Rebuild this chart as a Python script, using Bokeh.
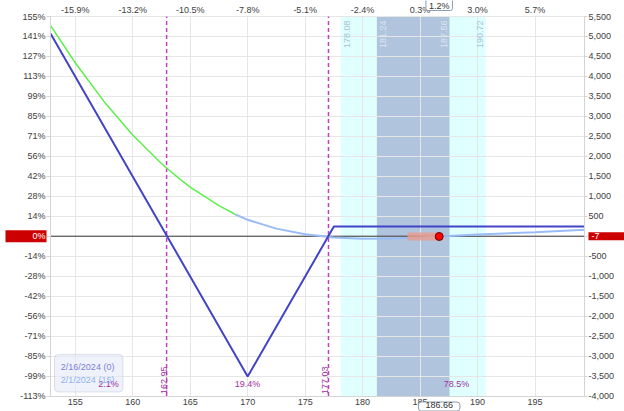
import math
from bokeh.plotting import figure
from bokeh.models import (Range1d, LinearAxis, FixedTicker, BoxAnnotation,
                          Label, NumeralTickFormatter)
from bokeh.core.properties import value
from bokeh.embed import file_html
from bokeh.resources import INLINE

FONT = "Liberation Sans"
W, H = 624, 411

# underlying price window and current quote
price_start, price_end = 152.85, 199.3
pnl_start, pnl_end = -4000, 5500
spot_price = 186.66
spot_move_label = "1.2%"
spot_pnl = -7

price_ticks = [155, 160, 165, 170, 175, 180, 185, 190, 195]
price_move_labels = ["-15.9%", "-13.2%", "-10.5%", "-7.8%", "-5.1%",
                     "-2.4%", "0.3%", "3.0%", "5.7%"]

pnl_ticks = [5500, 5000, 4500, 4000, 3500, 3000, 2500, 2000, 1500, 1000, 500, 0,
             -500, -1000, -1500, -2000, -2500, -3000, -3500, -4000]
pnl_pct_labels = ["155%", "141%", "127%", "113%", "99%", "85%", "71%", "56%", "42%",
                  "28%", "14%", "0%", "-14%", "-28%", "-42%", "-56%", "-71%", "-85%",
                  "-99%", "-113%"]

# P&L at expiration (2/16/2024)
expiry_price = [152.85, 170.0, 177.5, 199.3]
expiry_pnl = [5075, -3510, 240, 240]

# P&L today (2/1/2024, 15 days left)
today_price = [152.85, 155.0, 157.5, 160.0, 162.5, 163.0, 164.16, 165.0, 167.5, 168.95,
               170.0, 172.5, 175.0, 177.5, 180.0, 182.5, 185.0, 186.66, 190.0, 195.0, 199.3]
today_pnl = [5276, 4343, 3375, 2535, 1821, 1694, 1416, 1227, 765, 543,
             411, 190, 50, -30, -65, -55, -30, -7, 40, 100, 160]
green_until = 9  # curve is drawn green up to this point

breakevens = [162.95, 177.03]
zone_probs = ["2.1%", "19.4%", "78.5%"]

sd1 = [181.24, 187.56]
sd2 = [178.08, 190.72]

move_range = [183.9, 186.66]

legend_items = ["2/16/2024 (0)", "2/1/2024 (15)"]
legend_colors = ["#7f7fd8", "#8fb4ee"]

# the frame fills the canvas; the chart window sits inside it with room for the axes
pad_left, pad_right, pad_top, pad_bottom = 50, 40, 16, 15.5
x_per_px = (price_end - price_start) / (W - pad_left - pad_right)
y_per_px = (pnl_end - pnl_start) / (H - pad_top - pad_bottom)
x_range = Range1d(price_start - pad_left * x_per_px, price_end + pad_right * x_per_px)
y_range = Range1d(pnl_start - pad_bottom * y_per_px, pnl_end + pad_top * y_per_px)

p = figure(width=W, height=H, output_backend="svg", toolbar_location=None,
           x_range=x_range, y_range=y_range, min_border=0,
           background_fill_color="white", border_fill_color="white",
           outline_line_color=None)


def style_axis(ax):
    ax.major_label_text_font = FONT
    ax.major_label_text_font_size = "9px"
    ax.major_label_text_color = "#404040"
    ax.minor_tick_line_color = None
    ax.axis_line_color = "#d4d4d4"
    ax.major_tick_line_color = "#d4d4d4"


# bottom: price
xa = p.xaxis[0]
xa.ticker = FixedTicker(ticks=price_ticks)
xa.fixed_location = pnl_start
xa.bounds = (price_start, price_end)
style_axis(xa)
xa.major_tick_out = 0
xa.major_tick_in = 0
xa.major_label_standoff = 3

# top: % move from price
top = LinearAxis(ticker=FixedTicker(ticks=price_ticks), fixed_location=pnl_end,
                 bounds=(price_start, price_end),
                 major_label_overrides={t: s for t, s in zip(price_ticks, price_move_labels)})
style_axis(top)
top.axis_line_color = None
top.major_tick_out = 0
top.major_tick_in = 0
top.major_label_standoff = 2
p.add_layout(top, "above")

# left: % return
ya = p.yaxis[0]
ya.ticker = FixedTicker(ticks=pnl_ticks)
ya.fixed_location = price_start
ya.bounds = (pnl_start, pnl_end)
ya.major_label_overrides = {t: s for t, s in zip(pnl_ticks, pnl_pct_labels)}
style_axis(ya)
ya.major_tick_out = 4
ya.major_tick_in = 0
ya.major_label_standoff = 1

# right: P&L in dollars
right = LinearAxis(ticker=FixedTicker(ticks=pnl_ticks), fixed_location=price_end,
                   bounds=(pnl_start, pnl_end),
                   formatter=NumeralTickFormatter(format="0,0"))
style_axis(right)
right.major_tick_out = 3
right.major_tick_in = 0
right.major_label_standoff = 1
p.add_layout(right, "right")

p.xgrid.ticker = FixedTicker(ticks=price_ticks)
p.ygrid.ticker = FixedTicker(ticks=pnl_ticks)
p.xgrid.cross_bounds = (pnl_start, pnl_end)
p.ygrid.cross_bounds = (price_start, price_end)
p.grid.grid_line_color = "#e6e6e6"
p.grid.grid_line_width = 1

# standard deviation bands
p.add_layout(BoxAnnotation(left=sd2[0], right=sd2[1], top=pnl_end, bottom=pnl_start,
                           fill_color="#e0ffff", fill_alpha=1, line_color=None,
                           level="image"))
p.add_layout(BoxAnnotation(left=sd1[0], right=sd1[1], top=pnl_end, bottom=pnl_start,
                           fill_color="#b0c4de", fill_alpha=1, line_color=None,
                           level="image"))

# legend panel
p.add_layout(BoxAnnotation(left=153.2, right=159.15, top=-2960, bottom=-3900,
                           fill_color="#e4eaf7", fill_alpha=0.6, line_color="#9aa6b8",
                           line_width=1, border_radius=4, level="underlay"))

# zero P&L line
p.segment(x0=[price_start], y0=[0], x1=[price_end], y1=[0], line_color="#333333",
          line_width=1)

# breakeven lines
p.segment(x0=breakevens, y0=[pnl_start] * 2, x1=breakevens, y1=[pnl_end] * 2,
          line_color="#c040c0", line_width=1.5, line_dash="4 3")

# curves
p.line(today_price[:green_until + 1], today_pnl[:green_until + 1],
       line_color="#5cef4c", line_width=1.5)
p.line(today_price[green_until:], today_pnl[green_until:],
       line_color="#9abcf6", line_width=2)
p.line(expiry_price, expiry_pnl, line_color="#4343c8", line_width=2)

# recent move and current position
p.line(move_range, [spot_pnl, spot_pnl], line_color="#f09a86", line_alpha=0.75, line_width=8)
p.scatter([spot_price], [spot_pnl], size=8, fill_color="#ff0000", line_color="#6a0000",
          line_width=1)

# band labels
sd_lo = [sd2[0], sd1[0]]
sd_hi = [sd1[1], sd2[1]]
p.text(x=sd_lo, y=[pnl_end] * 2, text=[f"{v:.2f}" for v in sd_lo], angle=math.pi / 2,
       text_align="right", text_baseline="top", x_offset=3, y_offset=4,
       text_font=value(FONT), text_font_size="9px", text_color=["#a9bfd9", "#dce4f1"])
p.text(x=sd_hi, y=[pnl_end] * 2, text=[f"{v:.2f}" for v in sd_hi], angle=math.pi / 2,
       text_align="right", text_baseline="bottom", x_offset=-3, y_offset=4,
       text_font=value(FONT), text_font_size="9px", text_color=["#dce4f1", "#a9bfd9"])

# breakeven labels
p.text(x=breakevens, y=[pnl_start] * 2, text=[f"{v:.2f}" for v in breakevens],
       angle=math.pi / 2, text_align="left", text_baseline="bottom", x_offset=0, y_offset=-2,
       text_font=value(FONT), text_font_size="9px", text_color="#a030a0")

# probability of finishing in each zone
edges = [price_start] + breakevens + [price_end]
mids = [(a + b) / 2 for a, b in zip(edges[:-1], edges[1:])]
p.text(x=mids, y=[pnl_start] * len(mids), text=zone_probs, text_align="center",
       text_baseline="middle", y_offset=-12, text_font=value(FONT), text_font_size="9px",
       text_color="#a030a0")

# legend entries
for i, (item, col) in enumerate(zip(legend_items, legend_colors)):
    p.add_layout(Label(x=153.75, y=-3280 - 326 * i, text=item, text_align="left",
                       text_baseline="middle", text_font=FONT, text_font_size="9px",
                       text_color=col))

# highlighted axis values
p.add_layout(Label(x=price_start, y=0, x_offset=-4, text="0%", text_align="right",
                   text_baseline="middle", text_font=FONT, text_font_size="9px",
                   text_color="white", background_fill_color="#cc0000",
                   padding=dict(left=27, right=1, top=1, bottom=1)))
p.add_layout(Label(x=price_end, y=0, x_offset=4, text=str(spot_pnl), text_align="left",
                   text_baseline="middle", text_font=FONT, text_font_size="9px",
                   text_color="white", background_fill_color="#cc0000",
                   padding=dict(left=3, right=30, top=1, bottom=1)))
p.add_layout(Label(x=spot_price, y=pnl_end, y_offset=6, text=spot_move_label,
                   text_align="center", text_baseline="bottom", text_font=FONT,
                   text_font_size="9px", text_color="#333333",
                   background_fill_color="white", border_line_color="#8c9cb0",
                   border_radius=2, padding=dict(left=3, right=3, top=2, bottom=0)))
p.add_layout(Label(x=spot_price, y=pnl_start, y_offset=-6, text=f"{spot_price:.2f}",
                   text_align="center", text_baseline="top", text_font=FONT,
                   text_font_size="9px", text_color="#333333",
                   background_fill_color="white", border_line_color="#8c9cb0",
                   border_radius=3, padding=dict(left=7, right=7, top=0, bottom=3)))

open("out.html", "w").write(file_html(p, INLINE))
